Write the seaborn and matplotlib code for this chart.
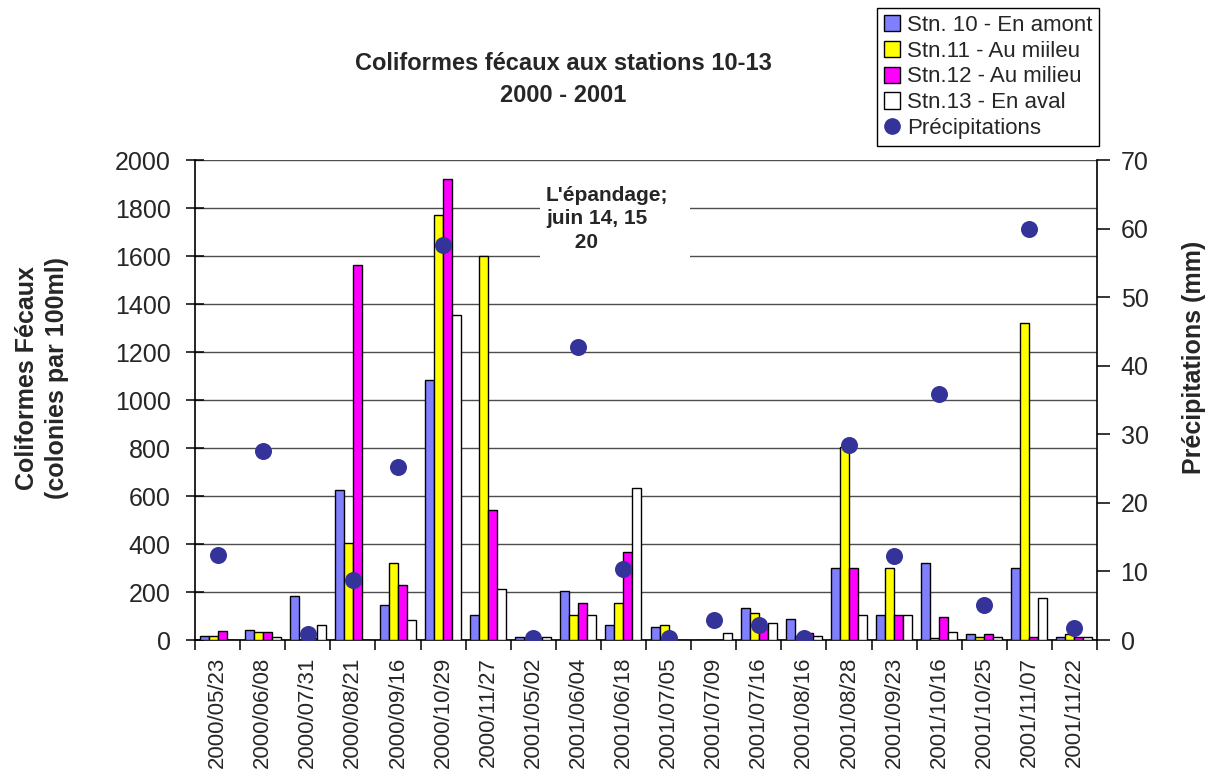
import numpy as np
import pandas as pd
import matplotlib
matplotlib.use("Agg")
import matplotlib.pyplot as plt
from matplotlib.patches import Patch, Rectangle
from matplotlib.lines import Line2D
import seaborn as sns

# Sampling dates
dates = ["2000/05/23", "2000/06/08", "2000/07/31", "2000/08/21", "2000/09/16",
         "2000/10/29", "2000/11/27", "2001/05/02", "2001/06/04", "2001/06/18",
         "2001/07/05", "2001/07/09", "2001/07/16", "2001/08/16", "2001/08/28",
         "2001/09/23", "2001/10/16", "2001/10/25", "2001/11/07", "2001/11/22"]

# Fecal coliforms (colonies per 100 ml) by station
stn10 = [17, 42, 183, 625, 146, 1083, 104, 12, 204, 62, 55, 0, 135, 89, 300, 104, 321, 25, 300, 12]
stn11 = [17, 35, 0, 404, 320, 1771, 1600, 0, 104, 154, 61, 0, 112, 15, 804, 300, 8, 12, 1320, 25]
stn12 = [37, 35, 10, 1562, 229, 1921, 542, 0, 154, 367, 0, 0, 60, 30, 300, 104, 96, 25, 12, 12]
stn13 = [0, 11, 64, 0, 83, 1354, 212, 12, 104, 633, 0, 30, 72, 15, 104, 104, 35, 12, 175, 12]

# Precipitation (mm); no reading on 2000/11/27
precip = [12.4, 27.6, 0.9, 8.7, 25.2, 57.6, np.nan, 0.3, 42.7, 10.4,
          0.3, 2.9, 2.2, 0.3, 28.4, 12.2, 35.9, 5.1, 60.0, 1.8]

station_names = ["Stn. 10 - En amont", "Stn.11 - Au miileu",
                 "Stn.12 - Au milieu", "Stn.13 - En aval"]
station_colors = ["#8080FF", "#FFFF00", "#FF00FF", "#FFFFFF"]
dot_color = "#333399"

sns.set_theme(style="white")
plt.rcParams["font.family"] = ["Liberation Sans", "DejaVu Sans"]

df = pd.DataFrame({
    "date": np.tile(dates, 4),
    "station": np.repeat(station_names, len(dates)),
    "value": np.concatenate([stn10, stn11, stn12, stn13]),
})
rain = pd.DataFrame({"pos": np.arange(len(dates)), "precip": precip})

fig = plt.figure(figsize=(12.21, 7.74), dpi=100)
ax = fig.add_axes([195 / 1221, 1 - 640 / 774, (1097 - 195) / 1221, 480 / 774])

sns.barplot(data=df, x="date", y="value", hue="station", order=dates,
            hue_order=station_names, palette=station_colors, width=0.8,
            edgecolor="black", linewidth=1.0, saturation=1, legend=False,
            ax=ax, zorder=3)

ax.set_xlim(-0.5, len(dates) - 0.5)
ax.set_ylim(0, 2000)
ax.set_yticks(np.arange(0, 2001, 200))
ax.yaxis.grid(True, color="#4d4d4d", linewidth=1.0, zorder=0)
ax.xaxis.grid(False)
ax.set_axisbelow(True)
ax.set_xlabel("")
ax.set_ylabel("")

for side in ["left", "bottom"]:
    ax.spines[side].set_color("black")
    ax.spines[side].set_linewidth(1.2)
ax.spines["top"].set_visible(False)
ax.spines["right"].set_visible(False)

ax.tick_params(axis="y", which="major", direction="inout", length=13, width=1.1,
               color="black", labelsize=18, pad=11, left=True)
ax.set_xticks(np.arange(len(dates)))
ax.set_xticklabels(dates, rotation=90, fontsize=16)
ax.tick_params(axis="x", which="major", length=0, pad=12)
ax.set_xticks(np.arange(-0.5, len(dates), 1.0), minor=True)
ax.tick_params(axis="x", which="minor", direction="out", length=7, width=1.1,
               color="black", bottom=True)

# Annotation about manure spreading, on a white box covering the grid
ax.add_patch(Rectangle(((540 - 195) / 902, (640 - 272) / 480), 150 / 902, 92 / 480,
                       transform=ax.transAxes, facecolor="white",
                       edgecolor="none", zorder=1))
ax.text((546 - 195) / 902, (640 - 186) / 480,
        "L'épandage;\njuin 14, 15\n     20", transform=ax.transAxes,
        ha="left", va="top", fontsize=15, fontweight="bold",
        linespacing=1.3, zorder=2)

# Precipitation on secondary axis
ax2 = ax.twinx()
sns.scatterplot(data=rain, x="pos", y="precip", color=dot_color, s=150,
                marker="o", edgecolor=dot_color, linewidth=0, ax=ax2, zorder=5)
ax2.set_xlim(-0.5, len(dates) - 0.5)
ax2.set_ylim(0, 70)
ax2.set_yticks(np.arange(0, 71, 10))
ax2.set_ylabel("")
ax2.set_xlabel("")
ax2.grid(False)
for side in ["left", "top", "bottom"]:
    ax2.spines[side].set_visible(False)
ax2.spines["right"].set_color("black")
ax2.spines["right"].set_linewidth(1.2)
ax2.tick_params(axis="y", direction="out", length=9, width=1.1, color="black",
                labelsize=18, pad=8, right=True)

# Titles and axis labels
fig.text(563 / 1221, 1 - 79 / 774, "Coliformes fécaux aux stations 10-13\n2000 - 2001",
         ha="center", va="center", fontsize=17, fontweight="bold", linespacing=1.5)
fig.text(42 / 1221, 1 - 378 / 774, "Coliformes Fécaux\n(colonies par 100ml)",
         ha="center", va="center", rotation=90, fontsize=18, fontweight="bold",
         linespacing=1.35)
fig.text(1194 / 1221, 1 - 357 / 774, "Précipitations (mm)", ha="center",
         va="center", rotation=90, fontsize=18, fontweight="bold")

# Legend
handles = [Patch(facecolor=c, edgecolor="black", linewidth=1.0) for c in station_colors]
handles.append(Line2D([], [], marker="o", linestyle="none", markersize=11,
                      markerfacecolor=dot_color, markeredgecolor=dot_color))
leg = fig.legend(handles, station_names + ["Précipitations"],
                 loc="upper left", bbox_to_anchor=(877 / 1221, 1 - 8 / 774),
                 fontsize=16, frameon=True, fancybox=False, edgecolor="black",
                 framealpha=1, handlelength=0.75, handleheight=0.75,
                 handletextpad=0.3, labelspacing=0.22, borderpad=0.3,
                 borderaxespad=0)
leg.get_frame().set_linewidth(1.0)

fig.savefig("out.png", dpi=100, facecolor="white")
